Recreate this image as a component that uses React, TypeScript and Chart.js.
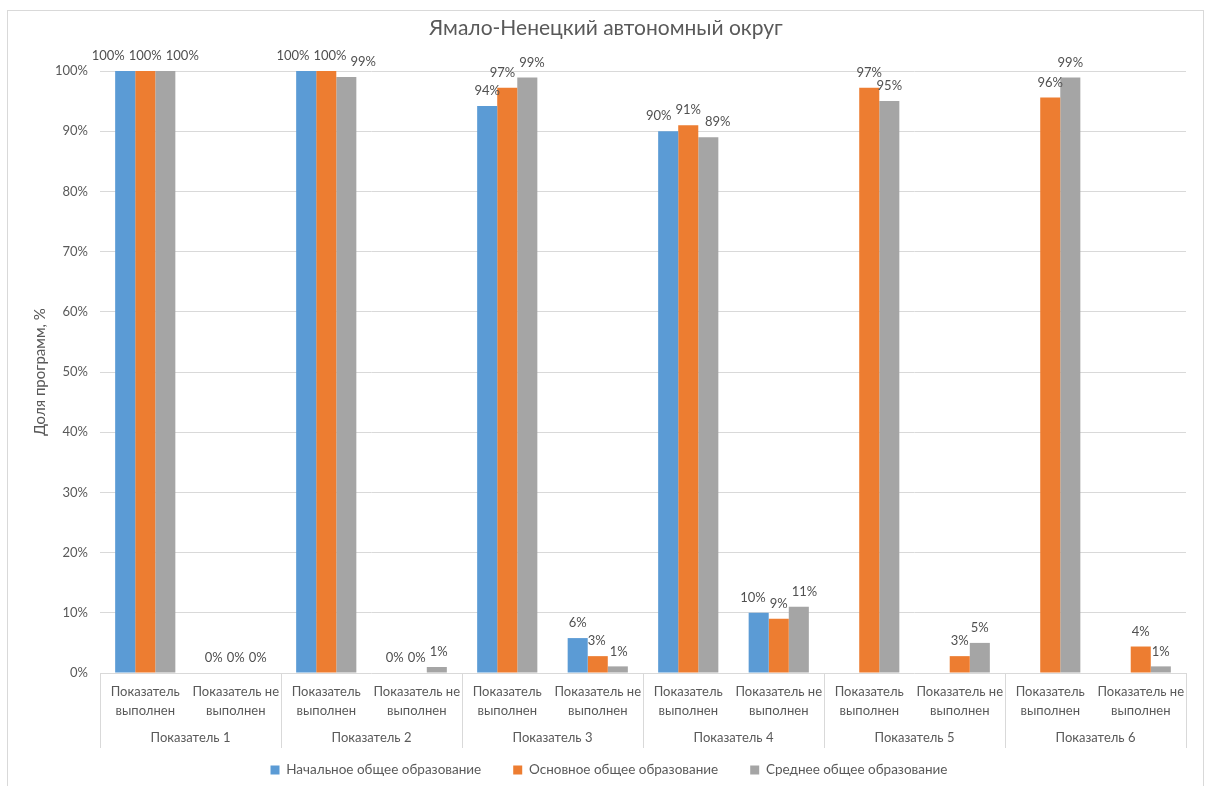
import React, { useEffect, useRef } from "react";
import { Chart, registerables } from "chart.js";

Chart.register(...registerables);

const chartTitle = "Ямало-Ненецкий автономный округ";
const yAxisTitle = "Доля программ, %";
const groups = ["Показатель 1", "Показатель 2", "Показатель 3", "Показатель 4", "Показатель 5", "Показатель 6"];
const subLabels = [["Показатель", "выполнен"], ["Показатель не", "выполнен"]];
const seriesNames = ["Начальное общее образование", "Основное общее образование", "Среднее общее образование"];
const seriesColors = ["#5B9BD5", "#ED7D31", "#A5A5A5"];

// order: P1 done, P1 not, P2 done, P2 not, ...
const primaryValues = [100, 0, 100, 0, 94.2, 5.8, 90, 10, null, null, null, null];
const basicValues = [100, 0, 100, 0, 97.2, 2.8, 91, 9, 97.2, 2.8, 95.6, 4.4];
const secondaryValues = [100, 0, 99, 1, 98.9, 1.1, 89, 11, 95, 5, 98.9, 1.1];
const yTicks = [0, 10, 20, 30, 40, 50, 60, 70, 80, 90, 100];

const FONT = "Lato, 'Open Sans', sans-serif";
const TEXT = "#595959";
const LINE = "#d9d9d9";
const LEGEND_PAD = 32;
const LEGEND_FONT = 13.5;

const categories = groups.flatMap((g) => subLabels.map((s) => `${g} ${s.join(" ")}`));

export default function App() {
  const ref = useRef<HTMLCanvasElement | null>(null);

  useEffect(() => {
    const canvas = ref.current;
    if (!canvas) return;

    const framePlugin = {
      id: "frame",
      beforeLayout(chart: any) {
        const lg = chart.legend;
        if (lg && !lg.__patched) {
          const fit = lg.fit.bind(lg);
          lg.fit = function () {
            fit();
            this.height = 38;
          };
          lg.__patched = true;
        }
      },
      afterLayout(chart: any) {
        const lg = chart.legend;
        if (lg) {
          const itemH = Math.max(LEGEND_FONT, 9);
          lg.top = chart.chartArea.bottom + 97 - LEGEND_PAD - itemH / 2;
          lg.bottom = chart.height;
          lg.left += 12;
          lg.right += 12;
        }
      },
      beforeDraw(chart: any) {
        const { ctx, width } = chart;
        ctx.save();
        ctx.fillStyle = "#ffffff";
        ctx.fillRect(0, 0, width, chart.height);
        ctx.strokeStyle = LINE;
        ctx.lineWidth = 1;
        ctx.strokeRect(7.5, 10.5, 1196, 800);
        ctx.restore();
      },
      afterDraw(chart: any) {
        const { ctx, chartArea } = chart;
        ctx.save();
        // title
        ctx.fillStyle = TEXT;
        ctx.font = `21px ${FONT}`;
        ctx.textAlign = "center";
        ctx.textBaseline = "middle";
        ctx.fillText(chartTitle, 606, 28);
        // group separators
        ctx.strokeStyle = LINE;
        ctx.lineWidth = 1;
        for (let i = 0; i <= groups.length; i++) {
          const px = Math.round(chartArea.left + (i * (chartArea.right - chartArea.left)) / groups.length) + 0.5;
          ctx.beginPath();
          ctx.moveTo(px, chartArea.bottom);
          ctx.lineTo(px, chartArea.bottom + 75);
          ctx.stroke();
        }
        // data labels with simple overlap spreading per category
        ctx.fillStyle = "#505050";
        ctx.font = `13px ${FONT}`;
        ctx.textAlign = "center";
        ctx.textBaseline = "middle";
        const H = 13;
        const GAP = 4;
        const n = chart.data.labels.length;
        for (let i = 0; i < n; i++) {
          const items: any[] = [];
          chart.data.datasets.forEach((ds: any, di: number) => {
            const v = ds.data[i];
            if (v === null || v === undefined) return;
            const el = chart.getDatasetMeta(di).data[i];
            const text = `${Math.round(v)}%`;
            items.push({ text, x: el.x, y: el.y - 15, w: ctx.measureText(text).width });
          });
          items.sort((a, b) => a.x - b.x);
          const clusters: any[][] = [];
          items.forEach((it) => {
            const last = clusters[clusters.length - 1];
            if (last) {
              const prev = last[last.length - 1];
              const overlapX = it.x - prev.x < (it.w + prev.w) / 2 + GAP;
              const overlapY = Math.abs(it.y - prev.y) < H;
              if (overlapX && overlapY) {
                last.push(it);
                return;
              }
            }
            clusters.push([it]);
          });
          clusters.forEach((cl) => {
            if (cl.length > 1) {
              const mean = cl.reduce((s, a) => s + a.x, 0) / cl.length;
              const total = cl.reduce((s, a) => s + a.w, 0) + GAP * (cl.length - 1);
              let cur = mean - total / 2;
              cl.forEach((a) => {
                a.x = cur + a.w / 2;
                cur += a.w + GAP;
              });
            }
            cl.forEach((a) => ctx.fillText(a.text, a.x, a.y));
          });
        }
        ctx.restore();
      },
    };

    const chart = new Chart(canvas, {
      type: "bar",
      data: {
        labels: categories,
        datasets: [
          { label: seriesNames[0], data: primaryValues, backgroundColor: seriesColors[0] },
          { label: seriesNames[1], data: basicValues, backgroundColor: seriesColors[1] },
          { label: seriesNames[2], data: secondaryValues, backgroundColor: seriesColors[2] },
        ],
      },
      options: {
        responsive: false,
        animation: false,
        datasets: { bar: { categoryPercentage: 0.665, barPercentage: 1.0 } },
        layout: { padding: { left: 8, right: 22, top: 71, bottom: 0 } },
        plugins: {
          title: { display: false },
          tooltip: { enabled: false },
          legend: {
            display: true,
            position: "bottom",
            labels: {
              color: TEXT,
              font: { family: FONT, size: LEGEND_FONT },
              boxWidth: 9,
              boxHeight: 9,
              padding: LEGEND_PAD,
            },
          },
        },
        scales: {
          x: {
            type: "category",
            position: "bottom",
            weight: 0,
            grid: { display: false, drawTicks: false },
            border: { display: false },
            ticks: {
              color: TEXT,
              font: { family: FONT, size: 13, lineHeight: 1.5 },
              padding: 9,
              maxRotation: 0,
              autoSkip: false,
              callback: (_v: any, i: number) => subLabels[i % 2],
            },
            afterFit: (s: any) => { s.height = 50; },
          },
          x2: {
            type: "category",
            position: "bottom",
            weight: 1,
            labels: groups,
            offset: true,
            grid: { display: false, drawTicks: false },
            border: { display: false },
            ticks: {
              color: TEXT,
              font: { family: FONT, size: 13 },
              padding: 7,
              maxRotation: 0,
              autoSkip: false,
            },
            afterFit: (s: any) => { s.height = 25; },
          },
          y: {
            min: 0,
            max: 100,
            grid: { color: LINE, drawTicks: false },
            border: { display: false },
            afterBuildTicks: (s: any) => { s.ticks = yTicks.map((v) => ({ value: v })); },
            ticks: {
              color: TEXT,
              font: { family: FONT, size: 13 },
              padding: 12,
              callback: (v: any) => `${v}%`,
            },
            title: {
              display: true,
              text: yAxisTitle,
              color: TEXT,
              font: { family: FONT, size: 15 },
              padding: { top: 23, bottom: 0 },
            },
            afterFit: (s: any) => { s.width = 92; },
          },
        },
      },
      plugins: [framePlugin],
    });
    return () => chart.destroy();
  }, []);

  return (
    <div style={{ position: "fixed", left: 0, top: 0, width: 1208, height: 786, background: "#fff" }}>
      <canvas ref={ref} width={1208} height={786} style={{ display: "block" }} />
    </div>
  );
}
